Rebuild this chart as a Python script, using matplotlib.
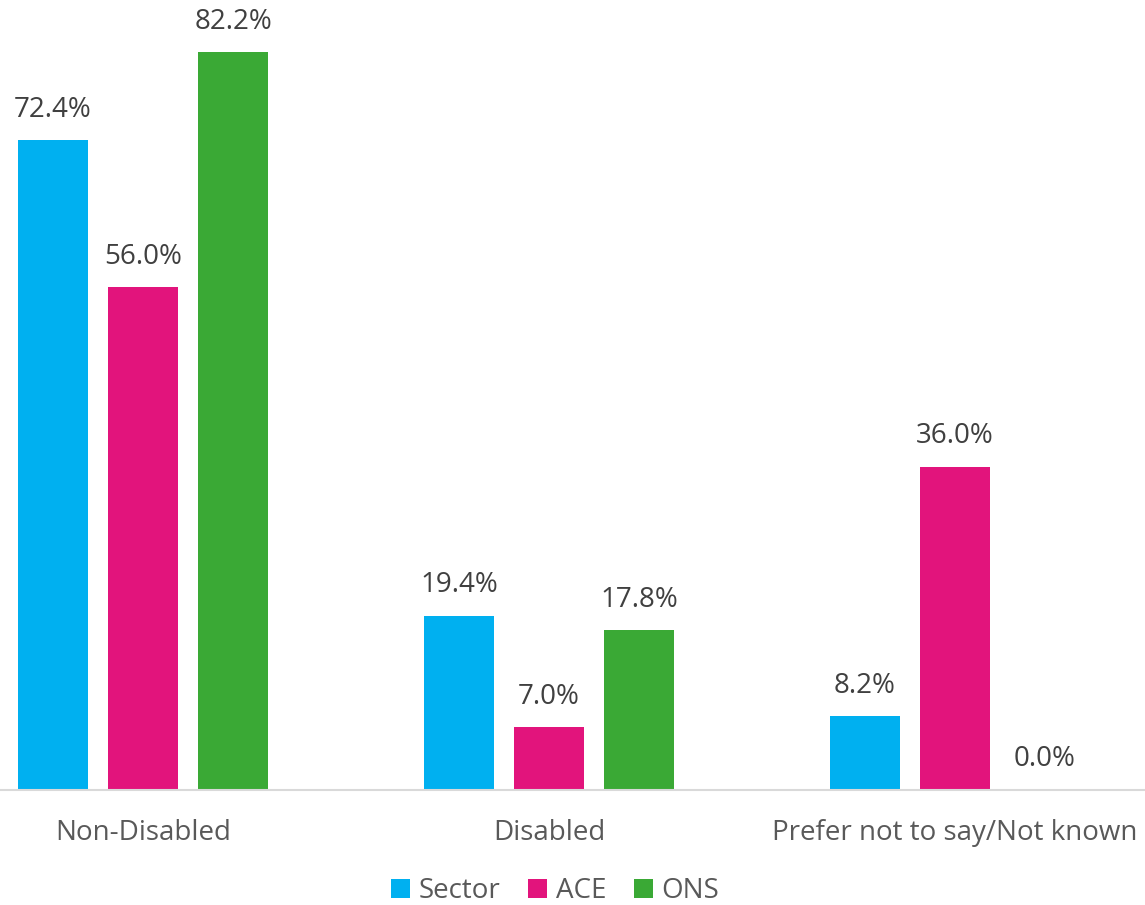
import matplotlib.pyplot as plt
import numpy as np

plt.rcParams["font.family"] = ["Open Sans", "DejaVu Sans"]

categories = ["Non-Disabled", "Disabled", "Prefer not to say/Not known"]
series_names = ["Sector", "ACE", "ONS"]
sector = [72.4, 19.4, 8.2]
ace = [56.0, 7.0, 36.0]
ons = [82.2, 17.8, 0.0]
colours = ["#00B0F0", "#E2147C", "#3AA935"]

fig = plt.figure(figsize=(11.45, 9.05), dpi=100)
ax = fig.add_axes([0, 115 / 905, 1, 790 / 905])

x = np.arange(len(categories))
width = 70 / 406
step = 90 / 406

for i, (name, vals, col) in enumerate(zip(series_names, [sector, ace, ons], colours)):
    pos = x + (i - 1) * step
    bars = ax.bar(pos, vals, width=width, color=col, label=name, zorder=2)
    for b, v in zip(bars, vals):
        ax.annotate("{:.1f}%".format(v), (b.get_x() + b.get_width() / 2, v),
                    xytext=(0, 12), textcoords="offset points",
                    ha="center", va="bottom", fontsize=20, color="#404040")

ax.set_xlim(-143 / 406, 1002 / 406)
ax.set_ylim(0, 790 / 8.975)

for s in ["top", "right", "left"]:
    ax.spines[s].set_visible(False)
ax.spines["bottom"].set_color("#D9D9D9")
ax.spines["bottom"].set_linewidth(1.5)
ax.set_yticks([])
ax.set_xticks(x)
ax.set_xticklabels(categories, fontsize=20, color="#595959")
ax.tick_params(axis="x", length=0, pad=21)

leg = fig.legend(loc="center", bbox_to_anchor=(555 / 1145, 1 - 891 / 905), ncol=3,
                 frameon=False, fontsize=20, handlelength=0.7, handleheight=0.7,
                 handletextpad=0.3, columnspacing=1.0, borderpad=0.1)
for t in leg.get_texts():
    t.set_color("#595959")

fig.savefig("out.png", dpi=100)
